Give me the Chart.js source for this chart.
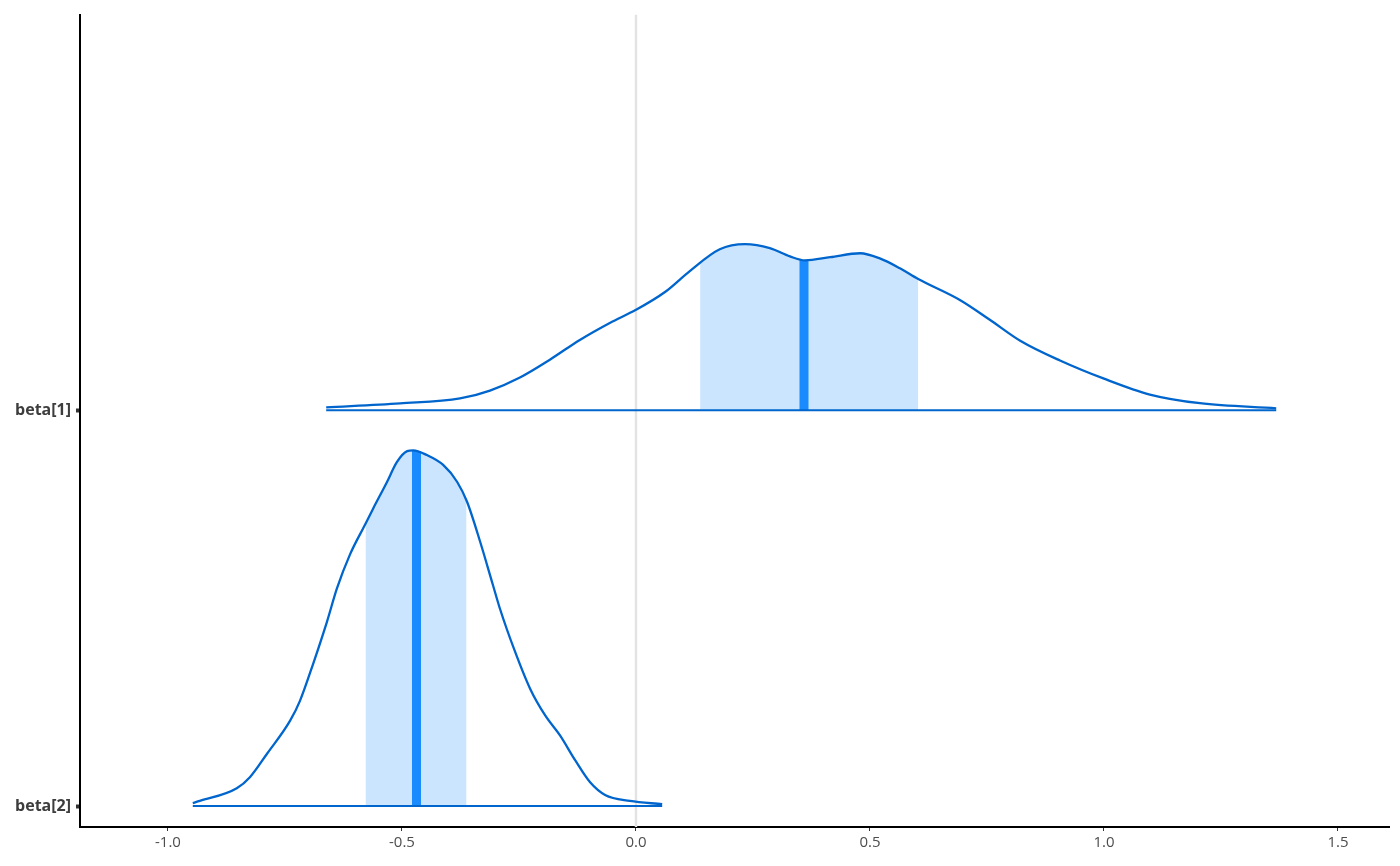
<!DOCTYPE html>
<html>
<head>
<meta charset="utf-8">
<script src="https://cdn.jsdelivr.net/npm/chart.js@4.4.0/dist/chart.umd.min.js"></script>
<style>
  html, body { margin: 0; padding: 0; background: #ffffff; }
  #wrap { width: 1400px; height: 866px; }
</style>
</head>
<body>
<div id="wrap"><canvas id="c" width="1400" height="866"></canvas></div>
<script>
// ---- Data ----
const paramLabels = ["beta[2]", "beta[1]"];   // y positions 0 and 1
const xTicks = [-1.0, -0.5, 0.0, 0.5, 1.0, 1.5];

// beta[1] density curve (x value, scaled height above its baseline)
const beta1X = [-0.662, -0.504, -0.376, -0.312, -0.248, -0.184, -0.120, -0.056, 0.000, 0.062, 0.115, 0.179, 0.233, 0.286, 0.329, 0.361, 0.415, 0.479, 0.521, 0.564, 0.603, 0.692, 0.756, 0.821, 0.906, 1.000, 1.098, 1.205, 1.368];
const beta1H = [0.0075, 0.0176, 0.030, 0.050, 0.083, 0.128, 0.178, 0.221, 0.254, 0.299, 0.352, 0.407, 0.420, 0.410, 0.389, 0.379, 0.387, 0.397, 0.384, 0.359, 0.332, 0.279, 0.229, 0.176, 0.126, 0.080, 0.040, 0.018, 0.005];

// beta[2] density curve
const beta2X = [-0.947, -0.932, -0.853, -0.825, -0.788, -0.739, -0.718, -0.690, -0.660, -0.639, -0.611, -0.579, -0.562, -0.532, -0.511, -0.489, -0.476, -0.447, -0.412, -0.382, -0.361, -0.333, -0.306, -0.291, -0.259, -0.226, -0.194, -0.162, -0.130, -0.098, -0.066, -0.013, 0.056];
const beta2H = [0.0075, 0.013, 0.045, 0.073, 0.133, 0.216, 0.266, 0.359, 0.467, 0.550, 0.636, 0.711, 0.751, 0.819, 0.869, 0.897, 0.899, 0.887, 0.862, 0.819, 0.769, 0.668, 0.560, 0.500, 0.392, 0.296, 0.229, 0.178, 0.116, 0.060, 0.028, 0.013, 0.005];

// inner intervals [low, high] and curve heights at those bounds
const beta1Interval = [0.137, 0.603];
const beta1IntervalH = [0.372, 0.332];
const beta2Interval = [-0.578, -0.362];
const beta2IntervalH = [0.711, 0.767];

// medians and curve heights at the medians
const medians = [-0.469, 0.359];      // beta[2], beta[1]
const medianH = [0.897, 0.379];

const referenceX = 0;

// ---- Build datasets ----
function curve(xs, hs, base) { return xs.map((x, i) => ({ x: x, y: base + hs[i] })); }
function shade(xs, hs, iv, ivh, base) {
  const pts = [{ x: iv[0], y: base + ivh[0] }];
  xs.forEach((x, i) => { if (x > iv[0] && x < iv[1]) pts.push({ x: x, y: base + hs[i] }); });
  pts.push({ x: iv[1], y: base + ivh[1] });
  return pts;
}
const dark = '#0065cc', mid = '#198bff', light = '#cce5ff';
const yMin = -0.0528, yMax = 2.0;

const lineBase = { showLine: true, pointRadius: 0, pointHoverRadius: 0, cubicInterpolationMode: 'monotone', fill: false };

const datasets = [
  // outlines (top)
  Object.assign({}, lineBase, { data: curve(beta1X, beta1H, 1), borderColor: dark, borderWidth: 2.3 }),
  Object.assign({}, lineBase, { data: curve(beta2X, beta2H, 0), borderColor: dark, borderWidth: 2.3 }),
  Object.assign({}, lineBase, { data: [{ x: beta1X[0], y: 1 }, { x: beta1X[beta1X.length - 1], y: 1 }], borderColor: dark, borderWidth: 2 }),
  Object.assign({}, lineBase, { data: [{ x: beta2X[0], y: 0 }, { x: beta2X[beta2X.length - 1], y: 0 }], borderColor: dark, borderWidth: 2 }),
  // medians
  Object.assign({}, lineBase, { data: [{ x: medians[1], y: 1 }, { x: medians[1], y: 1 + medianH[1] }], borderColor: mid, borderWidth: 9, borderCapStyle: 'butt' }),
  Object.assign({}, lineBase, { data: [{ x: medians[0], y: 0 }, { x: medians[0], y: medianH[0] }], borderColor: mid, borderWidth: 9, borderCapStyle: 'butt' }),
  // shaded intervals
  Object.assign({}, lineBase, { data: shade(beta1X, beta1H, beta1Interval, beta1IntervalH, 1), borderWidth: 0, borderColor: 'rgba(0,0,0,0)', backgroundColor: light, fill: { value: 1 } }),
  Object.assign({}, lineBase, { data: shade(beta2X, beta2H, beta2Interval, beta2IntervalH, 0), borderWidth: 0, borderColor: 'rgba(0,0,0,0)', backgroundColor: light, fill: { value: 0 } }),
  // reference line at 0 (bottom)
  Object.assign({}, lineBase, { data: [{ x: referenceX, y: yMin }, { x: referenceX, y: yMax }], borderColor: '#e3e3e3', borderWidth: 2.4, cubicInterpolationMode: 'default', tension: 0 })
];

new Chart(document.getElementById('c'), {
  type: 'scatter',
  data: { datasets: datasets },
  options: {
    responsive: false,
    animation: false,
    layout: { padding: { top: 9, right: 11, left: 0, bottom: 0 } },
    plugins: { legend: { display: false }, tooltip: { enabled: false } },
    scales: {
      x: {
        type: 'linear', min: -1.188, max: 1.609,
        afterBuildTicks: s => { s.ticks = xTicks.map(v => ({ value: v })); },
        afterFit: s => { s.height = 39; },
        ticks: {
          callback: v => Number(v).toFixed(1),
          font: { family: 'Open Sans', size: 15 }, color: '#4d4d4d', padding: 3, maxRotation: 0, autoSkip: false
        },
        grid: { display: true, drawOnChartArea: false, drawTicks: true, tickLength: 4, tickColor: '#333333', tickWidth: 1 },
        border: { display: true, color: '#000000', width: 2 }
      },
      y: {
        type: 'linear', min: yMin, max: yMax,
        afterBuildTicks: s => { s.ticks = paramLabels.map((l, i) => ({ value: i })); },
        afterFit: s => { s.width = 80; },
        ticks: {
          callback: v => paramLabels[Math.round(v)] || '',
          font: { family: 'Open Sans', size: 16, weight: 'bold' }, color: '#3d3d3d', padding: 5, autoSkip: false
        },
        grid: { display: true, drawOnChartArea: false, drawTicks: true, tickLength: 4, tickColor: '#333333', tickWidth: 4 },
        border: { display: true, color: '#000000', width: 2 }
      }
    }
  }
});
</script>
</body>
</html>
